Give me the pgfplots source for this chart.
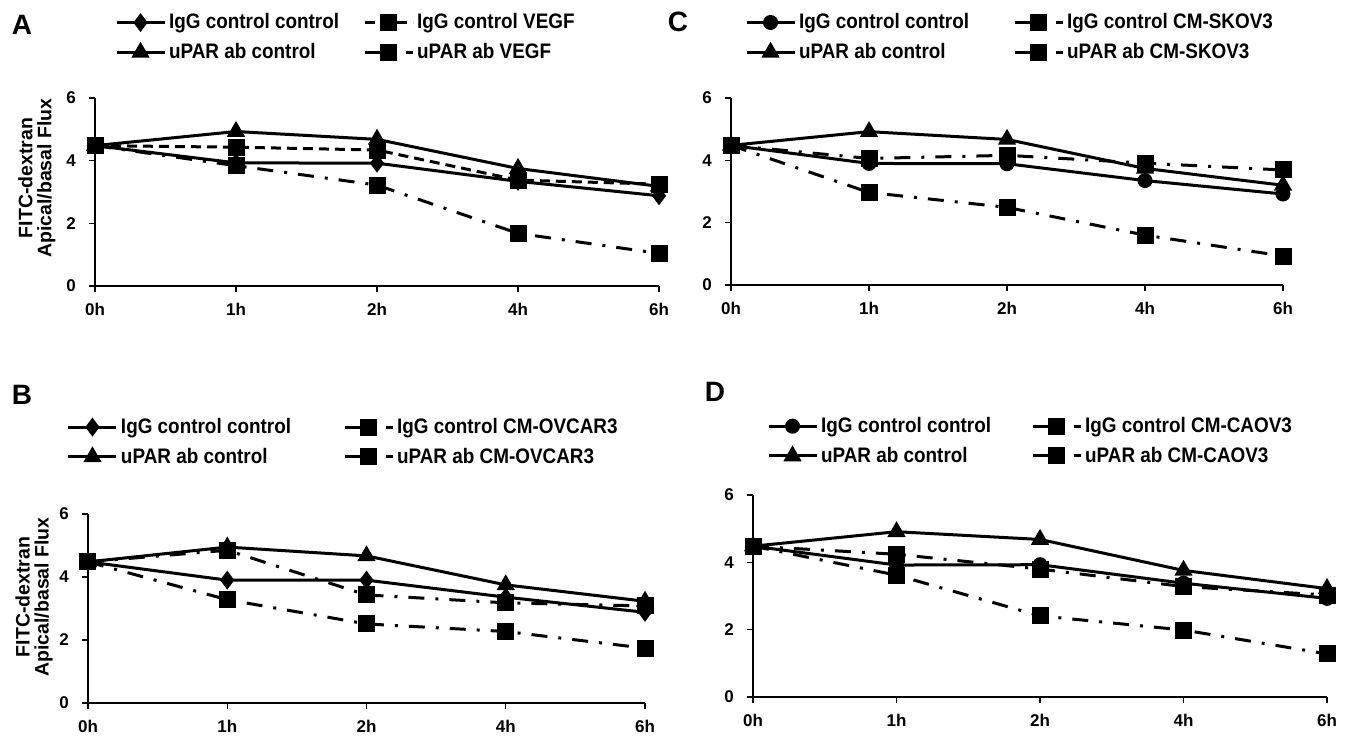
\documentclass[border=0pt]{standalone}
\usepackage{fontspec}
\setmainfont{Liberation Sans}
\newfontfamily\legfont{Liberation Sans}[FakeStretch=0.9]
\usepackage{pgfplots}
\pgfplotsset{compat=1.18}

\pgfplotsset{
  panel/.style={
    scale only axis,
    axis lines=left,
    axis line style={line width=0.6pt,-},
    xmin=0,xmax=4,ymin=0,ymax=6,
    xtick={0,1,2,3,4},
    xticklabels={0h,1h,2h,4h,6h},
    ytick={0,2,4,6},
    tick align=outside,
    major tick length=3pt,
    tick style={line width=0.6pt,black},
    ticklabel style={font=\fontsize{8.5}{10}\selectfont\bfseries},
    xticklabel style={yshift=-2pt},
    yticklabel style={xshift=-3pt},
    /pgf/number format/assume math mode=true,
    clip=false,
    legend columns=2,
    legend cell align=left,
    legend style={draw=none,fill=none,inner sep=0pt,outer sep=0pt,
      font=\legfont\fontsize{10.5}{12}\selectfont\bfseries,anchor=west,
      row sep=4.8pt,
      nodes={inner xsep=1.5pt,inner ysep=0.5pt}},
    legend image code/.code={%
      \draw[mark repeat=2,mark phase=2] plot coordinates {(0pt,0pt)(12pt,0pt)(24pt,0pt)};},
    ylabel style={align=center,font=\fontsize{9.75}{9.5}\selectfont\bfseries,anchor=center},
  },
  solidser/.style={black,line width=1.5pt,solid},
  dashser/.style={black,line width=1.5pt,dash pattern=on 5pt off 3pt},
  dotser/.style={black,line width=1.5pt,dash pattern=on 8pt off 5.5pt on 1.5pt off 5.5pt},
  sq/.style={mark=square*,mark size=3.5pt,mark options={solid,fill=black}},
  tri/.style={mark=triangle*,mark size=3.8pt,mark options={solid,fill=black}},
  dia/.style={mark=diamond*,mark size=3.5pt,mark options={solid,fill=black}},
  cir/.style={mark=*,mark size=3pt,mark options={solid,fill=black}},
}

\begin{document}
\begin{tikzpicture}
\path[use as bounding box] (0,0) rectangle (676pt,-368.5pt);

% ---------------- Panel A ----------------
\begin{axis}[panel,
  at={(47.5pt,-143pt)},anchor=south west,
  width=282pt,height=94pt,
  ylabel={FITC-dextran\\Apical/basal Flux},
  ylabel style={at={(-0.103,0.574)}},
  legend style={at={(0.0355,1.322)},/tikz/column 2/.style={column sep=10.5pt}},
]
\addplot[solidser,dia] coordinates {(0,4.48)(1,3.93)(2,3.92)(3,3.34)(4,2.88)};
\addlegendentry{IgG control control}
\addplot[dashser,sq] coordinates {(0,4.48)(1,4.43)(2,4.34)(3,3.38)(4,3.25)};
\addlegendentry{IgG control VEGF}
\addplot[solidser,tri] coordinates {(0,4.48)(1,4.93)(2,4.68)(3,3.75)(4,3.18)};
\addlegendentry{uPAR ab control}
\addplot[dotser,sq] coordinates {(0,4.48)(1,3.84)(2,3.22)(3,1.68)(4,1.04)};
\addlegendentry{uPAR ab VEGF}
\end{axis}

% ---------------- Panel C ----------------
\begin{axis}[panel,
  at={(365.5pt,-142.5pt)},anchor=south west,
  width=276pt,height=93.5pt,
  legend style={at={(0.0254,1.324)},/tikz/column 2/.style={column sep=20.5pt}},
]
\addplot[solidser,cir] coordinates {(0,4.48)(1,3.9)(2,3.89)(3,3.35)(4,2.92)};
\addlegendentry{IgG control control}
\addplot[dotser,sq] coordinates {(0,4.48)(1,4.06)(2,4.16)(3,3.91)(4,3.69)};
\addlegendentry{IgG control CM-SKOV3}
\addplot[solidser,tri] coordinates {(0,4.48)(1,4.92)(2,4.67)(3,3.74)(4,3.2)};
\addlegendentry{uPAR ab control}
\addplot[dotser,sq] coordinates {(0,4.48)(1,2.97)(2,2.49)(3,1.6)(4,0.93)};
\addlegendentry{uPAR ab CM-SKOV3}
\end{axis}

% ---------------- Panel B ----------------
\begin{axis}[panel,
  at={(44pt,-351.5pt)},anchor=south west,
  width=278.5pt,height=94.5pt,
  ylabel={FITC-dextran\\Apical/basal Flux},
  ylabel style={at={(-0.097,0.561)}},
  legend style={at={(-0.0377,1.381)},/tikz/column 2/.style={column sep=24.5pt}},
]
\addplot[solidser,dia] coordinates {(0,4.48)(1,3.9)(2,3.9)(3,3.36)(4,2.88)};
\addlegendentry{IgG control control}
\addplot[dotser,sq] coordinates {(0,4.48)(1,4.85)(2,3.43)(3,3.18)(4,3.08)};
\addlegendentry{IgG control CM-OVCAR3}
\addplot[solidser,tri] coordinates {(0,4.48)(1,4.95)(2,4.67)(3,3.75)(4,3.23)};
\addlegendentry{uPAR ab control}
\addplot[dotser,sq] coordinates {(0,4.48)(1,3.28)(2,2.51)(3,2.27)(4,1.74)};
\addlegendentry{uPAR ab CM-OVCAR3}
\end{axis}

% ---------------- Panel D ----------------
\begin{axis}[panel,
  at={(376.5pt,-348.5pt)},anchor=south west,
  width=287pt,height=101pt,
  legend style={at={(0.0244,1.267)},/tikz/column 2/.style={column sep=18.5pt}},
]
\addplot[solidser,cir] coordinates {(0,4.48)(1,3.92)(2,3.93)(3,3.38)(4,2.93)};
\addlegendentry{IgG control control}
\addplot[dotser,sq] coordinates {(0,4.48)(1,4.24)(2,3.8)(3,3.28)(4,3.03)};
\addlegendentry{IgG control CM-CAOV3}
\addplot[solidser,tri] coordinates {(0,4.48)(1,4.91)(2,4.68)(3,3.76)(4,3.22)};
\addlegendentry{uPAR ab control}
\addplot[dotser,sq] coordinates {(0,4.48)(1,3.62)(2,2.41)(3,1.99)(4,1.28)};
\addlegendentry{uPAR ab CM-CAOV3}
\end{axis}

% panel letters
\node[font=\fontsize{14}{16}\selectfont\bfseries] at (11pt,-12.5pt) {A};
\node[font=\fontsize{14}{16}\selectfont\bfseries] at (11pt,-197.5pt) {B};
\node[font=\fontsize{14}{16}\selectfont\bfseries] at (339pt,-11pt) {C};
\node[font=\fontsize{14}{16}\selectfont\bfseries] at (357.5pt,-196pt) {D};
\end{tikzpicture}
\end{document}
